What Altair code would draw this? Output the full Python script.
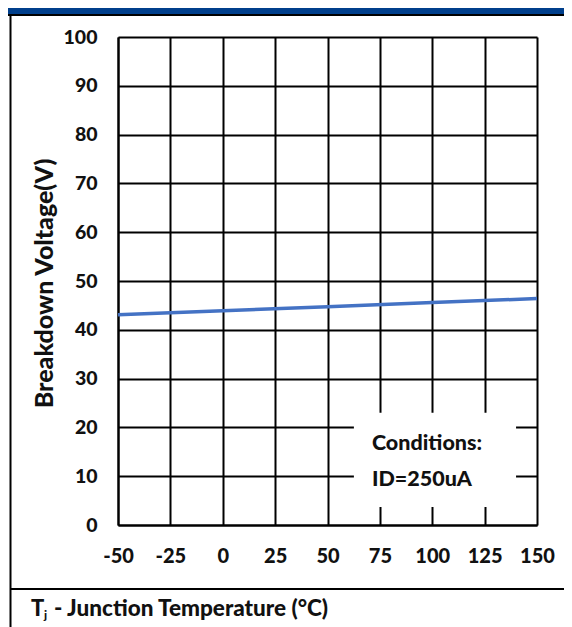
import altair as alt
import pandas as pd

# Data
temps = [-50, 0, 50, 100, 150]
bv = [43.1, 43.9, 44.7, 45.6, 46.4]
x_ticks = [-50, -25, 0, 25, 50, 75, 100, 125, 150]
y_ticks = [0, 10, 20, 30, 40, 50, 60, 70, 80, 90, 100]
cond_lines = ["Conditions:", "ID=250uA"]

FONT = "Lato"
TXT = "#111111"
W = 900

df = pd.DataFrame({"t": temps, "v": bv})
one = pd.DataFrame({"a": [0]})

xs = alt.Scale(domain=[-50, 150], nice=False, zero=False)
ys = alt.Scale(domain=[0, 100], nice=False)

line = alt.Chart(df).mark_line(color="#4472C4", strokeWidth=3.5).encode(
    x=alt.X("t:Q", scale=xs, title=None,
            axis=alt.Axis(values=x_ticks, labelExpr="'' + datum.value",
                          labelFont=FONT, labelFontSize=20,
                          labelFontWeight=W, labelColor=TXT, labelPadding=21,
                          labelFlush=False, labelOverlap=False, ticks=False,
                          domainColor="black", domainWidth=2,
                          grid=True, gridColor="black", gridWidth=2, gridOpacity=1)),
    y=alt.Y("v:Q", scale=ys,
            axis=alt.Axis(values=y_ticks, labelExpr="'' + datum.value",
                          labelFont=FONT, labelFontSize=19.5,
                          labelFontWeight=W, labelColor=TXT, labelPadding=21,
                          labelFlush=False, labelOverlap=False, ticks=False,
                          domainColor="black", domainWidth=2,
                          grid=True, gridColor="black", gridWidth=2, gridOpacity=1,
                          title="Breakdown Voltage(V)", titleFont=FONT,
                          titleFontSize=25, titleFontWeight=W, titleColor=TXT,
                          titleX=-74, titleY=246, titleAngle=270,
                          titleAlign="center", titleBaseline="middle")),
)

box_df = pd.DataFrame({"x1": [62.6], "x2": [140], "y1": [3.7], "y2": [23]})
box = alt.Chart(box_df).mark_rect(color="white").encode(
    x=alt.X("x1:Q", scale=xs), x2="x2:Q",
    y=alt.Y("y1:Q", scale=ys), y2="y2:Q",
)

cond_df = pd.DataFrame({"label": cond_lines, "x": [71.2, 71.2], "y": [16.6, 9.2]})
cond = alt.Chart(cond_df).mark_text(
    align="left", baseline="middle", font=FONT, fontSize=21.5, fontWeight=W, color=TXT
).encode(x=alt.X("x:Q", scale=xs), y=alt.Y("y:Q", scale=ys), text="label:N")

header = alt.Chart(one).mark_rect(color="#003F8C").encode(
    x=alt.value(-110), x2=alt.value(450), y=alt.value(-29), y2=alt.value(-23))
header_line = alt.Chart(one).mark_rule(color="black", strokeWidth=2).encode(
    x=alt.value(-110), x2=alt.value(450), y=alt.value(-22))
left_border = alt.Chart(one).mark_rule(color="black", strokeWidth=2).encode(
    x=alt.value(-107.5), y=alt.value(-22), y2=alt.value(600))
sep = alt.Chart(one).mark_rule(color="black", strokeWidth=2).encode(
    x=alt.value(-108), x2=alt.value(450), y=alt.value(552))

t_main = alt.Chart(one).mark_text(
    align="left", baseline="middle", font=FONT, fontSize=22, fontWeight=W, color=TXT
).encode(x=alt.value(-87), y=alt.value(572), text=alt.value("T"))
t_sub = alt.Chart(one).mark_text(
    align="left", baseline="middle", font=FONT, fontSize=12, fontWeight=W, color=TXT
).encode(x=alt.value(-74), y=alt.value(578), text=alt.value("j"))
t_rest = alt.Chart(one).mark_text(
    align="left", baseline="middle", font=FONT, fontSize=22.5, fontWeight=W, color=TXT
).encode(x=alt.value(-64), y=alt.value(572), text=alt.value("- Junction Temperature (°C)"))

chart = alt.layer(
    line, box, cond, header, header_line, left_border, sep, t_main, t_sub, t_rest
).properties(
    width=419, height=488,
    autosize=alt.AutoSizeParams(type="none"),
    padding={"left": 110, "top": 29, "right": 27, "bottom": 102},
).configure_view(stroke="black", strokeWidth=2).configure(background="white")

chart.save("out.html", embed_options={"renderer": "svg", "actions": False})
